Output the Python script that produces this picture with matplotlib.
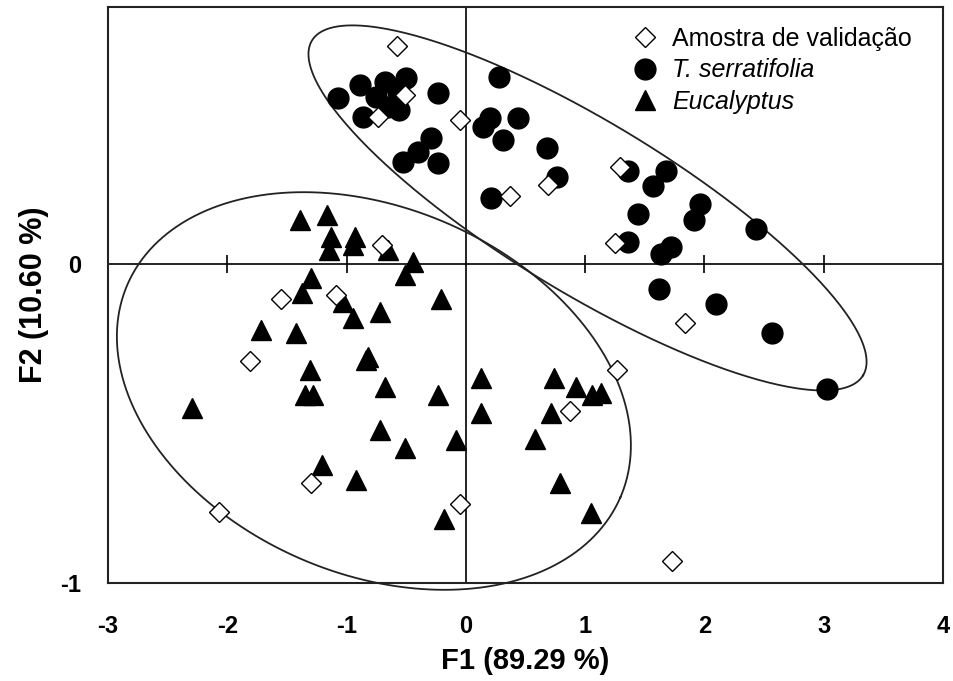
import numpy as np
import matplotlib
matplotlib.use("Agg")
import matplotlib.pyplot as plt
from matplotlib.lines import Line2D

plt.rcParams['font.family'] = ['Liberation Sans', 'DejaVu Sans']
plt.rcParams['axes.unicode_minus'] = False

# validation samples (open diamonds)
val_x = [-0.58, -0.05, -0.74, -0.51, 0.37, -0.70, 1.29, 0.69, 1.25, 1.84,
         1.27, 0.87, -0.05, 1.73, -1.55, -1.09, -1.81, -1.30, -2.07]
val_y = [0.684, 0.451, 0.46, 0.53, 0.213, 0.06, 0.305, 0.248, 0.065, -0.186,
         -0.332, -0.461, -0.753, -0.931, -0.108, -0.097, -0.303, -0.687, -0.776]

# T. serratifolia (filled circles)
ts_x = [-1.07, -0.89, -0.68, -0.50, -0.75, -0.57, -0.65, -0.56, -0.86, -0.23,
        -0.29, -0.40, -0.53, -0.23, 0.28, 0.20, 0.14, 0.31, 0.44, 0.68,
        0.76, 0.21, 1.36, 1.68, 1.57, 1.44, 1.96, 1.91, 1.36, 1.72,
        1.64, 2.43, 1.62, 2.10, 2.57, 3.03]
ts_y = [0.52, 0.561, 0.572, 0.582, 0.525, 0.54, 0.493, 0.483, 0.462, 0.535,
        0.394, 0.352, 0.321, 0.316, 0.587, 0.457, 0.43, 0.39, 0.457, 0.363,
        0.274, 0.206, 0.292, 0.292, 0.245, 0.156, 0.188, 0.138, 0.07, 0.054,
        0.033, 0.109, -0.079, -0.126, -0.215, -0.392]

# Eucalyptus (filled triangles)
eu_x = [0.13, 0.13, -0.08, 0.74, 0.92, 1.06, 1.13, 0.71, 0.58, 0.79, 1.05, -0.18,
        -1.30, -1.37, -1.03, -0.95, -0.72, -0.51, -0.44, -0.21, -1.72, -1.42,
        -1.31, -1.35, -1.28, -0.84, -0.82, -0.68, -0.23, -2.30, -0.72, -0.51,
        -1.21, -0.92, -1.39, -1.16, -1.13, -1.15, -0.93, -0.95, -0.65]
eu_y = [-0.358, -0.468, -0.552, -0.358, -0.387, -0.411, -0.405, -0.466, -0.549, -0.687, -0.779, -0.80,
        -0.045, -0.092, -0.118, -0.170, -0.149, -0.034, 0.007, -0.111, -0.207, -0.217,
        -0.332, -0.411, -0.411, -0.30, -0.29, -0.385, -0.411, -0.452, -0.52, -0.578,
        -0.630, -0.677, 0.138, 0.154, 0.086, 0.044, 0.086, 0.06, 0.044]

# confidence ellipses: centre, semi-axis vectors (data units)
ell_ts = dict(c=(1.02, 0.176), a=(2.31, -0.525), b=(-0.37, -0.228))
ell_eu = dict(c=(-0.771, -0.398), a=(2.067, -0.333), b=(-0.608, -0.527))

xticks = [-3, -2, -1, 0, 1, 2, 3, 4]
yticks = [-1, 0]

fig = plt.figure(figsize=(9.54, 6.81), dpi=100)
ax = fig.add_axes([108/954, 1-583/681, 835/954, 576/681])

ax.axhline(0, color='black', lw=1.2, zorder=1)
ax.axvline(0, color='black', lw=1.2, zorder=1)
inner = [t for t in xticks if t not in (0, xticks[0], xticks[-1])]
ax.vlines(inner, -0.028, 0.028, color='black', lw=1.2, zorder=1)

t = np.linspace(0, 2*np.pi, 400)
for e in (ell_ts, ell_eu):
    ex = e['c'][0] + np.cos(t)*e['a'][0] + np.sin(t)*e['b'][0]
    ey = e['c'][1] + np.cos(t)*e['a'][1] + np.sin(t)*e['b'][1]
    ax.plot(ex, ey, color='#222222', lw=1.3, zorder=2, clip_on=False)

ax.plot(ts_x, ts_y, 'o', ms=15, color='black', mec='black', zorder=3)
ax.plot(eu_x, eu_y, '^', ms=14, color='black', mec='black', zorder=3)
ax.plot(val_x, val_y, 'D', ms=10.5, mfc='white', mec='black', mew=1.0, zorder=4)

ax.set_xlim(-3, 4)
ax.set_ylim(-1, 0.806)
ax.set_xticks(xticks)
ax.set_yticks(yticks)
ax.tick_params(axis='x', length=0, pad=23, labelsize=17)
ax.tick_params(axis='y', length=0, pad=19, labelsize=17)
for lab in ax.get_xticklabels() + ax.get_yticklabels():
    lab.set_fontweight('bold')
for sp in ax.spines.values():
    sp.set_linewidth(1.5)
    sp.set_color('#222222')

ax.set_xlabel('F1 (89.29 %)', fontsize=21, fontweight='bold')
ax.set_ylabel('F2 (10.60 %)', fontsize=22, fontweight='bold')
ax.xaxis.set_label_coords(0.5, -0.111)
ax.yaxis.set_label_coords(-0.071, 0.5)

handles = [
    Line2D([], [], ls='none', marker='D', ms=10.5, mfc='white', mec='black', mew=1.0),
    Line2D([], [], ls='none', marker='o', ms=15, color='black'),
    Line2D([], [], ls='none', marker='^', ms=14, color='black'),
]
labels = ['Amostra de validação', 'T. serratifolia', 'Eucalyptus']
leg = ax.legend(handles, labels, loc='upper left', frameon=False,
                bbox_to_anchor=((632-108)/835, 0.965), borderpad=0, borderaxespad=0,
                handlelength=1.0, handletextpad=0.6, labelspacing=0.29,
                prop={'size': 18})
for txt in leg.get_texts()[1:]:
    txt.set_fontstyle('italic')

fig.savefig('out.png', dpi=100)
